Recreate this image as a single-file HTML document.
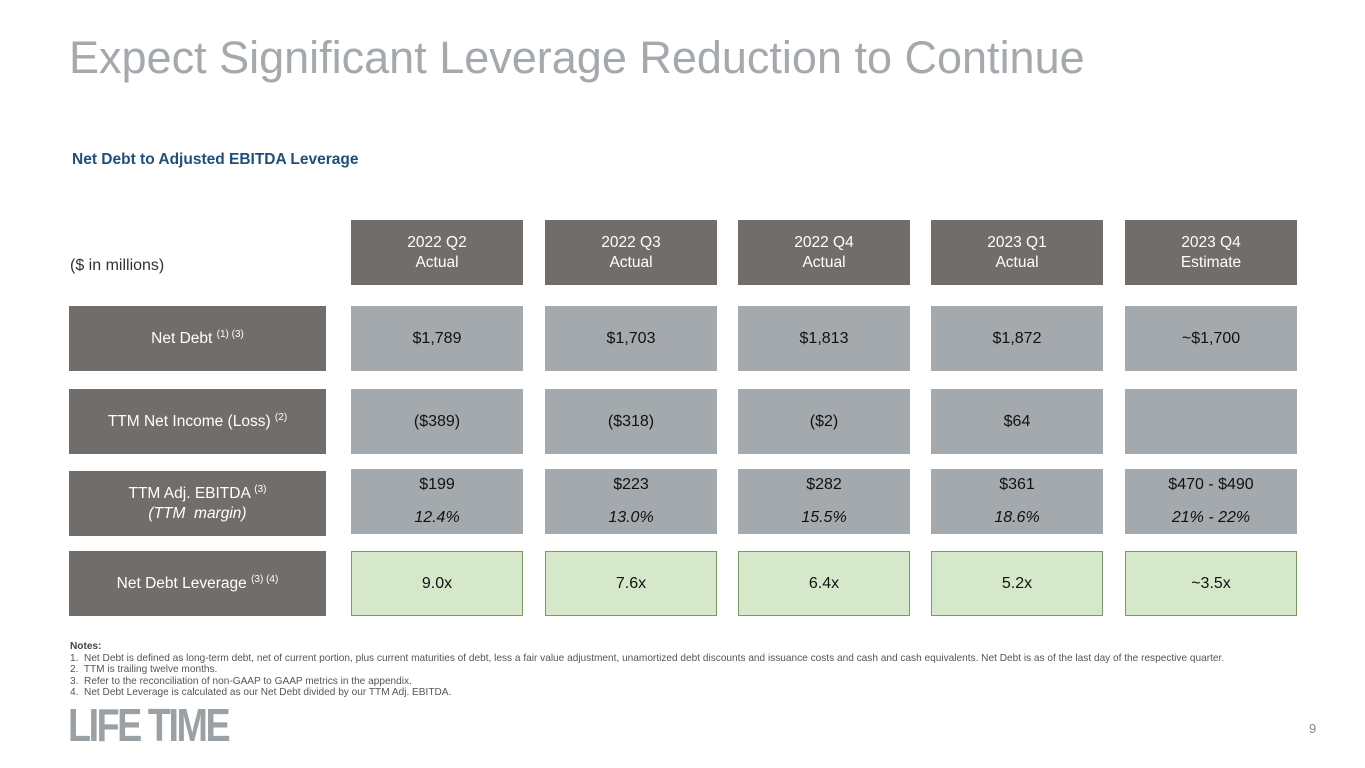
<!DOCTYPE html>
<html><head><meta charset="utf-8"><style>
body{margin:0;width:1365px;height:768px;background:#fff;position:relative;overflow:hidden;font-family:"Liberation Sans",sans-serif}
.a{position:absolute}
.box{position:absolute;display:flex;flex-direction:column;align-items:center;justify-content:center;text-align:center;box-sizing:border-box}
.lab{background:#716d6b;color:#fff;font-size:15.5px;left:69px;width:257px;height:65px}
.hd{background:#716d6b;color:#fff;font-size:15.5px;line-height:20px;top:220px;height:65px;width:172px}
.v{background:#a3a9ac;color:#111;font-size:16px;width:172px;height:65px}
.g{background:#d5e8c9;border:1.5px solid #7b9966;color:#111;font-size:16px;width:172px;height:65px;top:551px}
sup{font-size:10px;vertical-align:6px;line-height:0}
.n{font-size:10.1px;color:#555;left:70px}
</style></head><body>
<div class="a" style="left:69px;top:32px;font-size:45px;color:#a4a9ad">Expect Significant Leverage Reduction to Continue</div>
<div class="a" style="left:72px;top:151px;font-size:15.5px;font-weight:bold;color:#1f4e79">Net Debt to Adjusted EBITDA Leverage</div>
<div class="a" style="left:70px;top:257px;font-size:16px;color:#333">($ in millions)</div>

<div class="box lab" style="top:306px"><span>Net Debt <sup>(1) (3)</sup></span></div>
<div class="box lab" style="top:389px"><span>TTM Net Income (Loss) <sup>(2)</sup></span></div>
<div class="box lab" style="top:471px;line-height:20px"><div>TTM Adj. EBITDA <sup>(3)</sup></div><div><i>(TTM&nbsp; margin)</i></div></div>
<div class="box lab" style="top:551px"><span>Net Debt Leverage <sup>(3) (4)</sup></span></div>

<div id="cols"></div>

<div class="a n" style="top:641px;line-height:11.6px">
<div style="font-weight:bold;color:#444">Notes:</div>
<div>1.&nbsp; Net Debt is defined as long-term debt, net of current portion, plus current maturities of debt, less a fair value adjustment, unamortized debt discounts and issuance costs and cash and cash equivalents. Net Debt is as of the last day of the respective quarter.</div>
<div>2.&nbsp; TTM is trailing twelve months.</div>
<div>3.&nbsp; Refer to the reconciliation of non-GAAP to GAAP metrics in the appendix.</div>
<div>4.&nbsp; Net Debt Leverage is calculated as our Net Debt divided by our TTM Adj. EBITDA.</div>
</div>
<div class="a" style="left:68px;top:704px;font-size:46px;font-weight:bold;color:#9aa0a4;letter-spacing:-3px;transform:scaleX(0.82);transform-origin:left;line-height:42px">LIFE TIME</div>
<div class="a" style="left:1309px;top:721px;font-size:13px;color:#888">9</div>

<script>
const periods=["2022 Q2","2022 Q3","2022 Q4","2023 Q1","2023 Q4"];
const kinds=["Actual","Actual","Actual","Actual","Estimate"];
const netDebt=["$1,789","$1,703","$1,813","$1,872","~$1,700"];
const netIncome=["($389)","($318)","($2)","$64",""];
const ebitda=["$199","$223","$282","$361","$470 - $490"];
const margin=["12.4%","13.0%","15.5%","18.6%","21% - 22%"];
const leverage=["9.0x","7.6x","6.4x","5.2x","~3.5x"];
const lefts=[351,545,738,931,1125];
const c=document.getElementById('cols');
function mk(cls,top,left,html,name){const d=document.createElement('div');d.className='box '+cls;d.style.left=left+'px';if(top!==null)d.style.top=top+'px';d.innerHTML=html;


c.appendChild(d);}
periods.forEach((p,i)=>{const x=lefts[i];
mk('hd',null,x,p+'<br>'+kinds[i],'column-header');
mk('v',306,x,netDebt[i],'net-debt-cell');
mk('v',389,x,netIncome[i],'net-income-cell');
mk('v',469,x,'<div style="line-height:20px;margin-bottom:13px">'+ebitda[i]+'</div><div style="font-style:italic;line-height:20px">'+margin[i]+'</div>','adj-ebitda-cell');
mk('g',null,x,leverage[i],'leverage-cell');
});
</script>
</body></html>
